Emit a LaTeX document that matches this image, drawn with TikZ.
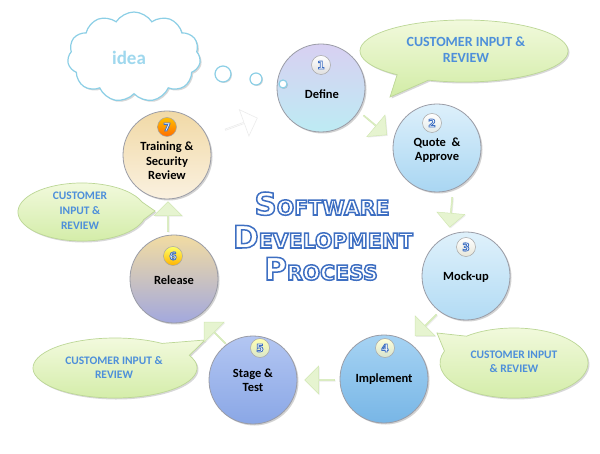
\documentclass[tikz,border=0pt]{standalone}
\usepackage{fontspec}
\setmainfont{Carlito}
\newfontfamily\titlefont{DejaVu Sans}
\usetikzlibrary{shapes.arrows,shapes.symbols,shadows}
\definecolor{ringgray}{HTML}{9A9CA6}
\definecolor{arrowgreen}{HTML}{E6F4D0}
\definecolor{arrowedge}{HTML}{D2E8B4}
\definecolor{bubtop}{HTML}{F3FADF}
\definecolor{bubbot}{HTML}{D2ECA6}
\definecolor{bubedge}{HTML}{BCD796}
\definecolor{bubtext}{HTML}{4D8FDA}
\definecolor{cloudblue}{HTML}{8CCFE6}
\definecolor{ideablue}{HTML}{9FD8EE}
\definecolor{c1top}{HTML}{D8D0F2}
\definecolor{c1mid}{HTML}{E9EEF8}
\definecolor{c1bot}{HTML}{BDEBF3}
\definecolor{c2top}{HTML}{DDF0FB}
\definecolor{c2bot}{HTML}{A9D6F2}
\definecolor{c3top}{HTML}{DFF1FB}
\definecolor{c3bot}{HTML}{B2DBF4}
\definecolor{c4top}{HTML}{A6D3F3}
\definecolor{c4bot}{HTML}{78B6E6}
\definecolor{c5top}{HTML}{B3C6F2}
\definecolor{c5bot}{HTML}{8AA7E6}
\definecolor{c6top}{HTML}{F2DCA2}
\definecolor{c6mid}{HTML}{E4DCC8}
\definecolor{c6bot}{HTML}{A2A8DE}
\definecolor{c7top}{HTML}{F1D9A6}
\definecolor{c7bot}{HTML}{FAF1E0}
\newcommand{\tbig}[1]{{\fontsize{31}{31}\selectfont #1}}
\newcommand{\tsml}[1]{{\fontsize{20.5}{20.5}\selectfont #1}}
\newcommand{\outl}[2]{\textcolor{white}{\special{pdf:literal direct 0.243 0.435 0.761 RG 2 Tr #1 w}#2\special{pdf:literal direct 0 Tr 0.4 w}}}
\newcommand{\ttl}[1]{\outl{1.5}{#1}}
\newcommand{\bnum}[1]{\outl{0.8}{#1}}
\tikzset{
  proc/.style={circle, draw=ringgray, line width=0.8pt, minimum size=88pt, inner sep=0pt,
    drop shadow={opacity=0.35, shadow xshift=1.5pt, shadow yshift=-1.5pt}},
  plabel/.style={align=center, font=\bfseries\fontsize{12.5}{14.5}\selectfont, text=black},
  badge/.style={circle, draw=gray!70, line width=0.5pt, minimum size=19pt, inner sep=0pt,
    font=\titlefont\bfseries\fontsize{11}{11}\selectfont},
  blockarrow/.style={single arrow, fill=arrowgreen, draw=arrowedge, line width=0.5pt,
    minimum height=30pt, minimum width=28pt, single arrow head extend=6pt, inner sep=0pt,
    drop shadow={opacity=0.15, shadow xshift=1pt, shadow yshift=-1pt}},
  bubble/.style={top color=bubtop, bottom color=bubbot, draw=bubedge, line width=0.7pt,
    drop shadow={opacity=0.3, shadow xshift=1.5pt, shadow yshift=-1.5pt}},
  bubtxt/.style={align=center, text=bubtext, font=\bfseries},
  thought/.style={circle, draw=cloudblue, line width=1.2pt, fill=white, inner sep=0pt,
    drop shadow={opacity=0.3, shadow xshift=1pt, shadow yshift=-1pt}},
}
\begin{document}
\begin{tikzpicture}[x=1pt, y=-1pt]
\useasboundingbox[fill=white] (0,0) rectangle (600,454);

% cloud
\node[cloud, cloud puffs=11, cloud puff arc=115, aspect=1.45, draw=cloudblue, line width=1.2pt,
  fill=white, minimum width=133pt, minimum height=90pt, inner sep=0pt,
  drop shadow={opacity=0.3, shadow xshift=1.5pt, shadow yshift=-1.5pt}] (cloud) at (134,57) {};
\node[font=\bfseries\fontsize{19}{19}\selectfont, text=ideablue] (idea) at (129,58) {idea};
\node[thought, minimum size=16pt] (t1) at (223,74) {};
\node[thought, minimum size=12pt] (t2) at (256,79) {};

% speech bubbles
\path[bubble] (464,51) ++(130:104 and 31) arc[start angle=130, end angle=470, x radius=104, y radius=31] -- (390,97) -- cycle;
\path[bubble] (82,212) ++(15:64 and 29) arc[start angle=15, end angle=340, x radius=64, y radius=29] -- (155,211) -- cycle;
\path[bubble] (115,368) ++(335:82 and 30) arc[start angle=335, end angle=665, x radius=82, y radius=30] -- (205,340) -- cycle;
\path[bubble] (514,363) ++(230:74 and 35) arc[start angle=230, end angle=560, x radius=74, y radius=35] -- (437,333) -- cycle;

\node[bubtxt, font=\bfseries\fontsize{14}{16}\selectfont] (bA) at (466,50) {CUSTOMER INPUT \&\\REVIEW};
\node[bubtxt, font=\bfseries\fontsize{11.5}{15}\selectfont] (bB) at (80,211) {CUSTOMER\\INPUT \&\\REVIEW};
\node[bubtxt, font=\bfseries\fontsize{11.5}{14}\selectfont] (bC) at (114,368) {CUSTOMER INPUT \&\\REVIEW};
\node[bubtxt, font=\bfseries\fontsize{11.5}{14}\selectfont] (bD) at (514,362) {CUSTOMER INPUT\\\& REVIEW};

% process circles
\node[proc, top color=c1top, middle color=c1mid, bottom color=c1bot] (c1) at (321,88) {};
\node[thought, minimum size=8pt] (t3) at (283,84) {};
\node[proc, top color=c2top, bottom color=c2bot] (c2) at (437,148) {};
\node[proc, top color=c3top, bottom color=c3bot] (c3) at (466,276) {};
\node[proc, top color=c4top, bottom color=c4bot] (c4) at (384,379) {};
\node[proc, top color=c5top, bottom color=c5bot] (c5) at (253,380) {};
\node[proc, top color=c6top, middle color=c6mid, bottom color=c6bot] (c6) at (174,279) {};
\node[proc, top color=c7top, bottom color=c7bot] (c7) at (167,155) {};

% labels
\node[plabel] (l1) at (322,94) {Define};
\node[plabel] (l2) at (437,150) {Quote~ \&\\Approve};
\node[plabel] (l3) at (466,277) {Mock-up};
\node[plabel] (l4) at (384,379) {Implement};
\node[plabel] (l5) at (253,380) {Stage \&\\Test};
\node[plabel] (l6) at (174,280) {Release};
\node[plabel] (l7) at (167,161) {Training \&\\Security\\Review};

% badges
\node[badge, top color=white, bottom color=gray!25] (n1) at (321,65) {\bnum{1}};
\node[badge, top color=white, bottom color=cyan!15!gray!20] (n2) at (432,123) {\bnum{2}};
\node[badge, top color=white, bottom color=yellow!20!gray!25] (n3) at (466,247) {\bnum{3}};
\node[badge, top color=yellow!15!white, bottom color=yellow!40!green!25!gray!30] (n4) at (385,348) {\bnum{4}};
\node[badge, top color=yellow!30!white, bottom color=yellow!50!green!35!gray!30] (n5) at (260,348) {\bnum{5}};
\node[badge, top color=yellow!60!white, bottom color=orange!60!yellow] (n6) at (173,256) {\bnum{6}};
\node[badge, top color=orange!50!yellow, bottom color=orange!85!red] (n7) at (167,127) {\bnum{7}};

% arrows
\node[blockarrow, rotate=-40] (a12) at (375,125) {};
\node[blockarrow, rotate=-95] (a23) at (451,212) {};
\node[blockarrow, rotate=-135] (a34) at (426,325) {};
\node[blockarrow, rotate=180] (a45) at (320,380) {};
\node[blockarrow, rotate=135] (a56) at (215,333) {};
\node[blockarrow, rotate=90] (a67) at (168,217) {};
\node[single arrow, fill=white, draw=gray!15, line width=0.6pt, minimum height=34pt, minimum width=28pt,
  single arrow head extend=6pt, inner sep=0pt, rotate=20] (a71) at (241,124) {};

% title
\node[anchor=base, font=\titlefont\bfseries] (tt1) at (322,215) {\ttl{\tbig{S}\tsml{OFTWARE}}};
\node[anchor=base, font=\titlefont\bfseries] (tt2) at (323,248) {\ttl{\tbig{D}\tsml{EVELOPMENT}}};
\node[anchor=base, font=\titlefont\bfseries] (tt3) at (321,280) {\ttl{\tbig{P}\tsml{ROCESS}}};
\end{tikzpicture}
\end{document}
